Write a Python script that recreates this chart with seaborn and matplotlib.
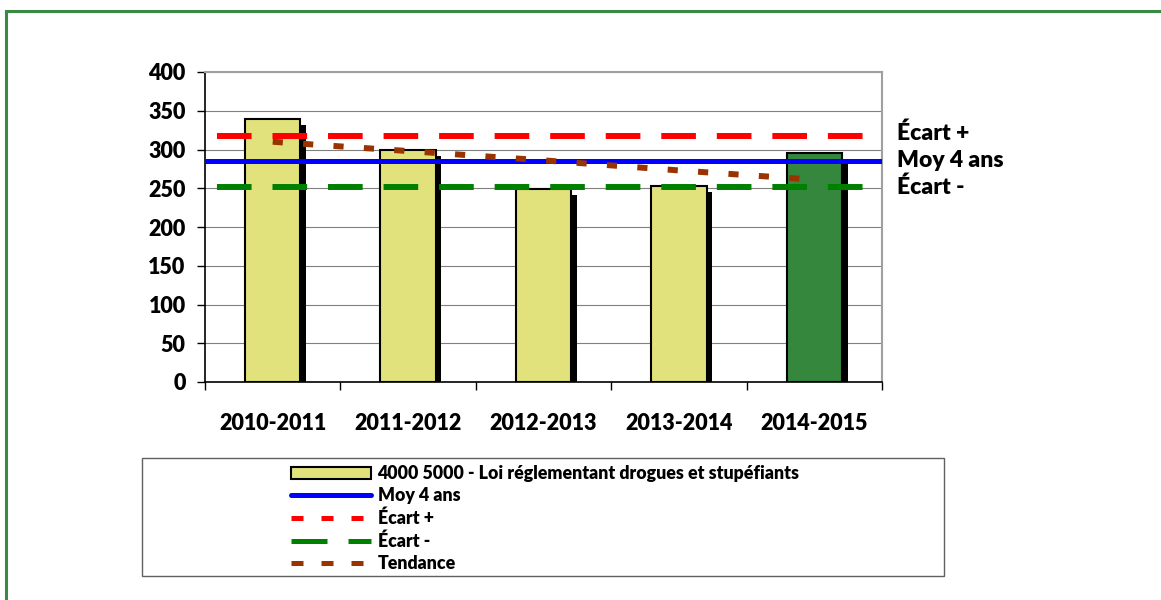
import matplotlib
matplotlib.use('Agg')
import matplotlib.pyplot as plt
import matplotlib.patheffects as pe
from matplotlib.patches import Rectangle, Patch
from matplotlib.lines import Line2D
import seaborn as sns

seasons = ['2010-2011', '2011-2012', '2012-2013', '2013-2014', '2014-2015']
counts = [339, 299, 249, 253, 296]
bar_colors = ['#E2E27C', '#E2E27C', '#E2E27C', '#E2E27C', '#35873E']
trend = [310, 298, 286, 273, 261]
moy_4_ans = 285
ecart_plus = 318
ecart_moins = 251
series_label = '4000 5000 - Loi réglementant drogues et stupéfiants'

sns.set_style('white')
plt.rcParams['font.family'] = ['Lato', 'DejaVu Sans']
plt.rcParams['font.weight'] = 'heavy'
plt.rcParams['text.color'] = 'black'
plt.rcParams['xtick.color'] = 'black'
plt.rcParams['ytick.color'] = 'black'
W = 'heavy'

fig = plt.figure(figsize=(11.61, 6.0), dpi=100)
ax = fig.add_axes([205 / 1161, 1 - 382 / 600, 677 / 1161, 310 / 600])

sns.barplot(x=seasons, y=counts, hue=seasons, palette=bar_colors, legend=False,
            width=0.41, edgecolor='black', linewidth=1.5, saturation=1, ax=ax, zorder=3)
for bar in ax.patches:
    bar.set_path_effects([pe.SimplePatchShadow(offset=(4, -4.3), shadow_rgbFace='black', alpha=1.0),
                          pe.Normal()])

ax.axhline(ecart_plus, color='#FF0000', lw=4.3, linestyle=(7.3, (5.8, 3.5)), zorder=4)
ax.axhline(moy_4_ans, color='#0000FF', lw=3.6, zorder=4)
ax.axhline(ecart_moins, color='#008000', lw=4.3, linestyle=(7.3, (5.8, 3.5)), zorder=4)
sns.lineplot(x=seasons, y=trend, color='#993300', lw=4.3, linestyle=(0, (1.7, 3.4)),
             ax=ax, zorder=5)

ax.set_xlim(-0.5, 4.5)
ax.set_ylim(0, 400)
ax.set_yticks(range(0, 401, 50))
ax.set_yticklabels([str(v) for v in range(0, 401, 50)], fontsize=15.5, fontweight=W)
ax.yaxis.grid(True, color='#808080', lw=0.8, zorder=0)
ax.set_axisbelow(True)

ax.set_xticks([i + 0.5 for i in range(-1, 5)], minor=False)
ax.set_xticklabels([])
ax.set_xticks(range(5), minor=True)
ax.set_xticklabels(seasons, minor=True, fontsize=15.5, fontweight=W)
ax.tick_params(axis='x', which='major', direction='out', length=6, width=1, color='black', bottom=True)
ax.tick_params(axis='x', which='minor', length=0, pad=22)
ax.tick_params(axis='y', direction='out', length=6, width=1, color='black', left=True, pad=8)
ax.set_xlabel('')
ax.set_ylabel('')

for side in ['top', 'right']:
    ax.spines[side].set_color('#A0A0A0')
    ax.spines[side].set_linewidth(1.5)
for side in ['left', 'bottom']:
    ax.spines[side].set_color('black')
    ax.spines[side].set_linewidth(1.2)

tr = ax.get_yaxis_transform()
for val, txt in [(ecart_plus + 3, 'Écart +'), (moy_4_ans + 1, 'Moy 4 ans'), (ecart_moins, 'Écart -')]:
    ax.text(1.022, val, txt, transform=tr, ha='left', va='center', fontsize=16.5,
            fontweight=W, color='black', clip_on=False)

handles = [
    Patch(facecolor='#E2E27C', edgecolor='black', linewidth=1.5),
    Line2D([], [], color='#0000FF', lw=3.6, solid_capstyle='round'),
    Line2D([], [], color='#FF0000', lw=3.6, linestyle=(0, (2.4, 3.6))),
    Line2D([], [], color='#008000', lw=3.6, linestyle=(0, (7.2, 4.2))),
    Line2D([], [], color='#993300', lw=3.6, linestyle=(0, (2.4, 3.6))),
]
labels = [series_label, 'Moy 4 ans', 'Écart +', 'Écart -', 'Tendance']
fig.legend(handles, labels, loc='upper left', bbox_to_anchor=(291 / 1161, 1 - 465 / 600),
           frameon=False, borderpad=0, borderaxespad=0, handlelength=4.5, handleheight=0.69,
           handletextpad=0.37, labelspacing=0.30, prop={'size': 12.8, 'weight': W})

fig.patches.append(Rectangle((142 / 1161, 1 - 576 / 600), 802 / 1161, 118 / 600,
                             transform=fig.transFigure, fill=False, edgecolor='#606060', lw=1))
fig.patches.append(Rectangle((6 / 1161, -0.05), 1.2, 1 - 11 / 600 + 0.05,
                             transform=fig.transFigure, fill=False, edgecolor='#3A8A44', lw=2.2))

fig.savefig('out.png', dpi=100)
